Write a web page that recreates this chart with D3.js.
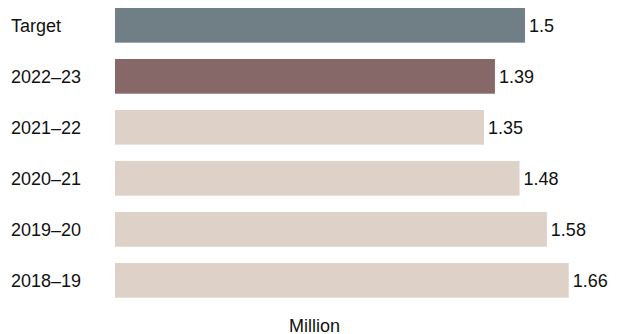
<!DOCTYPE html>
<html>
<head>
<meta charset="utf-8">
<script src="https://cdn.jsdelivr.net/npm/d3@7"></script>
<style>
  body { margin: 0; background: #fff; }
  text { font-family: "Liberation Sans", Arial, sans-serif; font-size: 18px; fill: #111; }
</style>
</head>
<body>
<script>
const categories = ["Target", "2022–23", "2021–22", "2020–21", "2019–20", "2018–19"];
const values = [1.5, 1.39, 1.35, 1.48, 1.58, 1.66];
const barColors = ["#707f86", "#866868", "#ddd1c8", "#ddd1c8", "#ddd1c8", "#ddd1c8"];
const axisTitle = "Million";

const width = 618, height = 334;
const svg = d3.select("body").append("svg").attr("width", width).attr("height", height);

// 0 maps to bar start, 1.5 to x=525
const x = d3.scaleLinear().domain([0, 1.5]).range([115, 525]);
const y = d3.scaleBand().domain(categories).range([8, 297.7]).paddingInner(0.32).paddingOuter(0);

const data = categories.map((c, i) => ({ cat: c, val: values[i], color: barColors[i] }));

svg.selectAll("rect.bar")
    .data(data)
    .enter().append("rect")
    .attr("class", "bar")
    .attr("x", x(0))
    .attr("y", d => y(d.cat))
    .attr("width", d => x(d.val) - x(0))
    .attr("height", y.bandwidth())
    .attr("fill", d => d.color);

// category labels
svg.selectAll("text.cat")
    .data(data)
    .enter().append("text")
    .attr("class", "cat")
    .attr("x", 11)
    .attr("y", d => y(d.cat) + y.bandwidth() / 2)
    .attr("dy", "0.37em")
    .text(d => d.cat);

// value labels
svg.selectAll("text.val")
    .data(data)
    .enter().append("text")
    .attr("class", "val")
    .attr("x", d => x(d.val) + 4)
    .attr("y", d => y(d.cat) + y.bandwidth() / 2)
    .attr("dy", "0.37em")
    .text(d => d.val);

svg.append("text")
    .attr("x", 314.5)
    .attr("y", 331.5)
    .attr("text-anchor", "middle")
    .text(axisTitle);
</script>
</body>
</html>
